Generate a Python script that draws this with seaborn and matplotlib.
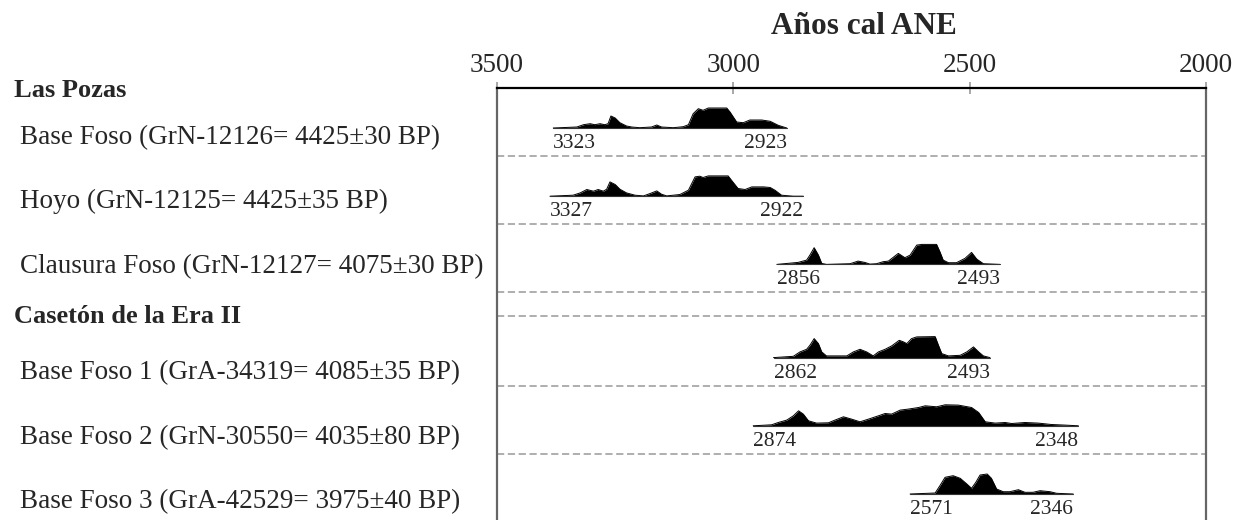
import numpy as np
import pandas as pd
import matplotlib
matplotlib.use('Agg')
import matplotlib.pyplot as plt
import matplotlib.transforms as mtransforms
import seaborn as sns

# ================================================================
# Data (calibrated 14C probability profiles)
# ================================================================
GROUPS = ['Las Pozas', 'Casetón de la Era II']
LABELS = ['Base Foso (GrN-12126= 4425±30 BP)',
          'Hoyo (GrN-12125= 4425±35 BP)',
          'Clausura Foso (GrN-12127= 4075±30 BP)',
          'Base Foso 1 (GrA-34319= 4085±35 BP)',
          'Base Foso 2 (GrN-30550= 4035±80 BP)',
          'Base Foso 3 (GrA-42529= 3975±40 BP)']
ROW_GROUP = [0, 0, 0, 1, 1, 1]
RANGE_FROM = [3323, 3327, 2856, 2862, 2874, 2571]
RANGE_TO = [2923, 2922, 2493, 2493, 2348, 2346]

YEARS_1 = [3381, 3331, 3317, 3303, 3293, 3282, 3272, 3265, 3259, 3250, 3240, 3226, 3215, 3198,
           3173, 3162, 3152, 3127, 3106, 3095, 3085, 3074, 3064, 3053, 3014, 3007, 2993, 2979,
           2965, 2940, 2922, 2905, 2887]
PROB_1 = [0, 1, 3.3, 4.3, 3.3, 4.3, 3.3, 4.3, 12, 10, 5.3, 2, 1, 0.3,
          1, 3, 1, 0.3, 1.3, 3.3, 14.3, 19.3, 17.7, 20, 20, 16, 6, 5.3,
          8, 8, 6.7, 2.7, 0]

YEARS_2 = [3388, 3339, 3324, 3310, 3296, 3286, 3275, 3268, 3261, 3250, 3240, 3226, 3208, 3190,
           3176, 3162, 3152, 3141, 3113, 3095, 3081, 3071, 3064, 3053, 3011, 3004, 2990, 2975,
           2961, 2936, 2922, 2912, 2898, 2873, 2852]
PROB_2 = [0, 1, 3.3, 6.7, 5, 6.7, 5, 7, 14.3, 11.7, 7, 3.3, 1, 0.3,
          2.7, 5.3, 2, 0.3, 1.7, 6, 19.3, 20, 18.7, 20.3, 20.3, 16, 7.7, 6.7,
          9.3, 9.3, 8.7, 6, 1, 0, 0]

YEARS_3 = [2908, 2863, 2845, 2838, 2829, 2820, 2813, 2803, 2753, 2736, 2722, 2711, 2697, 2683,
           2672, 2651, 2637, 2626, 2612, 2601, 2570, 2563, 2556, 2545, 2528, 2510, 2496, 2485,
           2471, 2436]
PROB_3 = [0, 2, 4.3, 9.3, 16.7, 9.3, 1, 0, 0.7, 3.3, 2, 0.3, 0.7, 2.7,
          3.3, 11, 6.7, 9.3, 19.3, 20, 20, 12.7, 4.3, 1.7, 1.7, 6, 12, 5.3,
          0.7, 0]

YEARS_4 = [2915, 2873, 2859, 2845, 2838, 2829, 2820, 2813, 2803, 2760, 2746, 2732, 2718, 2704,
           2693, 2679, 2665, 2649, 2640, 2633, 2623, 2612, 2573, 2566, 2559, 2545, 2520, 2506,
           2492, 2481, 2471, 2457]
PROB_4 = [0, 1.3, 5.7, 8.3, 12.3, 19, 14, 5.7, 1.7, 1.7, 5.7, 8.3, 5.7, 1.7,
          5.7, 8.3, 11.7, 17.3, 15.7, 14, 19, 20.7, 21, 12.3, 4, 1.7, 2.3, 5.7,
          10.7, 5.7, 1.7, 0]

YEARS_5 = [2958, 2919, 2905, 2887, 2873, 2862, 2852, 2841, 2824, 2799, 2785, 2767, 2750, 2732,
           2714, 2693, 2679, 2665, 2647, 2630, 2608, 2594, 2570, 2552, 2524, 2496, 2481, 2467,
           2446, 2425, 2411, 2383, 2355, 2327, 2298, 2270]
PROB_5 = [0, 1, 3.3, 5.7, 10, 15, 11.7, 5, 2.7, 3, 5.7, 9, 6.7, 4,
          6.7, 10, 12.3, 11.7, 15.7, 16.7, 18.3, 20, 19, 21, 20.7, 18.3, 13.3, 4,
          2.7, 3.3, 2.3, 3.3, 2.7, 1.3, 0.7, 0]

YEARS_6 = [2626, 2573, 2563, 2552, 2535, 2520, 2506, 2496, 2487, 2478, 2463, 2454, 2443, 2429,
           2415, 2397, 2383, 2366, 2351, 2330, 2316, 2281]
PROB_6 = [0, 1, 8.3, 16.7, 18.3, 15.7, 10, 5.7, 11.7, 19, 20, 15.7, 5, 2.3,
          2.3, 4.3, 1.7, 1.7, 3.3, 2.3, 0.7, 0]

YEARS = [YEARS_1, YEARS_2, YEARS_3, YEARS_4, YEARS_5, YEARS_6]
PROBS = [PROB_1, PROB_2, PROB_3, PROB_4, PROB_5, PROB_6]

XTICKS = [3500, 3000, 2500, 2000]
TITLE = 'Años cal ANE'

# ================================================================
# Layout (axes spans pixel rows 88..520, y data = px below top line)
# ================================================================
W, H = 1234, 520
AX_LEFT, AX_RIGHT, AX_TOP = 497, 1206, 88
ROW_STEP, ROW_FIRST, GROUP_GAP = 68.2, 40, 25
LAB_STEP, LAB_FIRST, LAB_GAP = 64.5, 56, 42

sns.set_style('white')
plt.rcParams['font.family'] = ['Liberation Serif', 'DejaVu Serif']

fig = plt.figure(figsize=(W / 100, H / 100), dpi=100)
ax = fig.add_axes([AX_LEFT / W, 0, (AX_RIGHT - AX_LEFT) / W, (H - AX_TOP) / H])
ax.set_xlim(3500, 2000)
ax.set_ylim(H - AX_TOP, 0)

bases = [ROW_FIRST + ROW_STEP * i + GROUP_GAP * g for i, g in enumerate(ROW_GROUP)]
lab_y = [LAB_FIRST + LAB_STEP * i + LAB_GAP * g for i, g in enumerate(ROW_GROUP)]

frames = []
for i, (yrs, pr) in enumerate(zip(YEARS, PROBS)):
    frames.append(pd.DataFrame({'row': i, 'year': yrs,
                                'y': bases[i] - np.asarray(pr, dtype=float)}))
df = pd.concat(frames, ignore_index=True)

# outline of each profile, then solid fill
sns.lineplot(data=df, x='year', y='y', hue='row', palette=['black'] * len(YEARS),
             estimator=None, sort=False, legend=False, lw=0.7, ax=ax)
for i, sub in df.groupby('row'):
    ax.fill_between(sub['year'], bases[i], sub['y'], color='black', lw=0)
    ax.plot([sub['year'].iloc[0], sub['year'].iloc[-1]], [bases[i], bases[i]],
            color='#333333', lw=0.8)
    ax.text(sub['year'].iloc[0], bases[i] + 6, str(RANGE_FROM[i]), ha='left', va='top',
            fontsize=15.5)
    ax.text(sub['year'].iloc[-1], bases[i] + 6, str(RANGE_TO[i]), ha='right', va='top',
            fontsize=15.5)

# dashed separators
seps = [b + 28 for b in bases[:-1]] + [bases[ROW_GROUP.index(1)] - 42]
for s in seps:
    ax.axhline(s, color='#a8a8a8', lw=1.3, ls=(0, (4, 2)))

# axis styling
ax.xaxis.tick_top()
ax.set_xticks(XTICKS)
ax.set_xticklabels([str(t) for t in XTICKS])
ax.tick_params(axis='x', direction='inout', length=8, width=1.2, color='#999999',
               pad=3, labelsize=19.5)
ax.set_yticks([])
ax.set_xlabel('')
ax.set_ylabel('')
ax.spines['bottom'].set_visible(False)
ax.spines['top'].set_color('black')
ax.spines['top'].set_linewidth(1.6)
for side in ['left', 'right']:
    ax.spines[side].set_color('#666666')
    ax.spines[side].set_linewidth(1.6)

# row and group labels on the left
trans = mtransforms.blended_transform_factory(fig.transFigure, ax.transData)
for i, lab in enumerate(LABELS):
    ax.text(20 / W, lab_y[i], lab, transform=trans, ha='left', va='baseline',
            fontsize=19.5, clip_on=False)
ax.text(14 / W, 9, GROUPS[0], transform=trans, ha='left', va='baseline',
        fontsize=19, fontweight='bold', clip_on=False)
ax.text(14 / W, 235, GROUPS[1], transform=trans, ha='left',
        va='baseline', fontsize=19, fontweight='bold', clip_on=False)

fig.text(864 / W, 1 - 26 / H, TITLE, ha='center', va='center', fontsize=22.5,
         fontweight='bold')

fig.savefig('out.png', dpi=100)
